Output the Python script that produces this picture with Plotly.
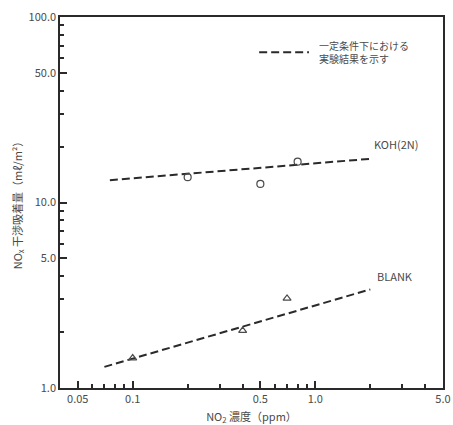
import math
import plotly.graph_objects as go

# Data
koh_x = [0.2, 0.5, 0.8]
koh_y = [13.7, 12.6, 16.6]
koh_fit_x = [0.075, 2.0]
koh_fit_y = [13.2, 17.2]

blank_x = [0.1, 0.4, 0.7]
blank_y = [1.45, 2.04, 3.04]
blank_fit_x = [0.07, 2.0]
blank_fit_y = [1.30, 3.40]

x_major = [0.05, 0.1, 0.5, 1.0, 5.0]
x_major_text = ["0.05", "0.1", "0.5", "1.0", "5.0"]
x_minor = [0.06, 0.07, 0.08, 0.09, 0.2, 0.3, 0.4, 0.6, 0.7, 0.8, 0.9, 2, 3, 4]
y_major = [1, 5, 10, 50, 100]
y_major_text = ["1.0", "5.0", "10.0", "50.0", "100.0"]
y_minor = [2, 3, 4, 6, 7, 8, 9, 20, 30, 40, 60, 70, 80, 90]

INK = "#4a4a4a"
LINE = "#2a2a2a"
FONT = "Noto Sans CJK JP, DejaVu Sans, sans-serif"

fig = go.Figure()
fig.add_trace(go.Scatter(x=koh_fit_x, y=koh_fit_y, mode="lines",
                         line=dict(color=LINE, width=2, dash="8px,4px"), showlegend=False))
fig.add_trace(go.Scatter(x=blank_fit_x, y=blank_fit_y, mode="lines",
                         line=dict(color=LINE, width=2, dash="8px,4px"), showlegend=False))
fig.add_trace(go.Scatter(x=koh_x, y=koh_y, mode="markers",
                         marker=dict(symbol="circle-open", size=7, color=INK, line=dict(width=1.2)),
                         showlegend=False))
fig.add_trace(go.Scatter(x=blank_x, y=blank_y, mode="markers",
                         marker=dict(symbol="triangle-up-open", size=7, color=INK, line=dict(width=1.2)),
                         showlegend=False))

fig.add_annotation(x=math.log10(koh_fit_x[-1]), y=math.log10(koh_fit_y[-1]), xref="x", yref="y",
                   text="KOH(2N)", showarrow=False, xanchor="left", yanchor="bottom",
                   xshift=2, yshift=5, font=dict(size=11, color=INK, family=FONT))
fig.add_annotation(x=math.log10(blank_fit_x[-1]), y=math.log10(blank_fit_y[-1]), xref="x", yref="y",
                   text="BLANK", showarrow=False, xanchor="left", yanchor="bottom",
                   xshift=5, yshift=3, font=dict(size=11, color=INK, family=FONT))

# legend key
fig.add_shape(type="line", xref="paper", yref="paper", x0=0.52, x1=0.65, y0=0.905, y1=0.905,
              line=dict(color=LINE, width=2, dash="8px,4px"))
fig.add_annotation(xref="paper", yref="paper", x=0.67, y=0.905, xanchor="left", yanchor="middle",
                   text="一定条件下における<br>実験結果を示す", align="left", showarrow=False,
                   font=dict(size=10, color=INK, family=FONT))

axis_common = dict(type="log", showline=True, linecolor=LINE, linewidth=1.5, mirror=True,
                   ticks="inside", ticklen=7, tickcolor=LINE, tickwidth=1.5,
                   showgrid=False, zeroline=False, automargin=False,
                   tickfont=dict(size=11, color=INK, family=FONT))

fig.update_xaxes(**axis_common, range=[-1.398, 0.699],
                 tickmode="array", tickvals=x_major, ticktext=x_major_text,
                 minor=dict(tickmode="array", tickvals=x_minor, ticks="inside", ticklen=4,
                            tickcolor=LINE, tickwidth=1.5, showgrid=False),
                 title=dict(text="NO<sub>2</sub> 濃度（ppm）", standoff=14,
                            font=dict(size=11, color=INK, family=FONT)))
fig.update_yaxes(**axis_common, range=[0, 2],
                 tickmode="array", tickvals=y_major, ticktext=y_major_text,
                 minor=dict(tickmode="array", tickvals=y_minor, ticks="inside", ticklen=4,
                            tickcolor=LINE, tickwidth=1.5, showgrid=False),
                 title=dict(text="NO<sub>x</sub> 干渉吸着量（mℓ/m²）", standoff=4,
                            font=dict(size=11, color=INK, family=FONT)))

fig.update_layout(width=453, height=425, margin=dict(l=60, r=10, t=17, b=37),
                  plot_bgcolor="white", paper_bgcolor="white", showlegend=False)

fig.write_html("out.html")
